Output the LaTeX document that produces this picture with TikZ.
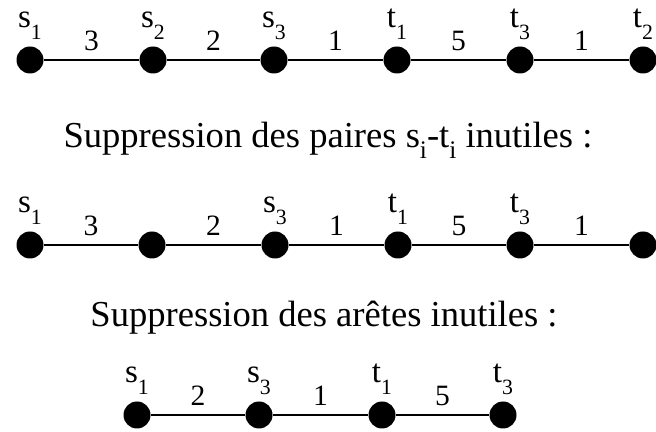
\documentclass[tikz,border=0pt]{standalone}
\usepackage{fontspec}
\setmainfont{Liberation Serif}
\usepackage{tikz}
\usetikzlibrary{positioning}

\newcommand{\vlab}[2]{#1\raisebox{-0.36em}{\fontsize{15.5}{18}\selectfont #2}}
\newcommand{\tsub}[1]{\raisebox{-0.3em}{\fontsize{18}{22}\selectfont #1}}

\begin{document}
\begin{tikzpicture}[x=0.025cm, y=0.025cm,
  dot/.style={circle, fill=black, inner sep=0pt, minimum size=19.2pt},
  lbl/.style={font=\fontsize{23.5}{28}\selectfont, inner sep=0pt, label distance=4.6pt},
  wt/.style={font=\fontsize{21}{25}\selectfont, inner sep=0pt, above=5.5pt},
  edge/.style={line width=2.1pt},
  title/.style={font=\fontsize{26}{31}\selectfont, anchor=base, inner sep=0pt}]

  \useasboundingbox (0,0) rectangle (656,432);

  % First chain
  \node[dot, label={[lbl]above:\vlab{s}{1}}] (s1) at (30,372) {};
  \node[dot, label={[lbl]above:\vlab{s}{2}}] (s2) at (153,372) {};
  \node[dot, label={[lbl]above:\vlab{s}{3}}] (s3) at (274,372) {};
  \node[dot, label={[lbl]above:\vlab{t}{1}}] (t1) at (397,372) {};
  \node[dot, label={[lbl]above:\vlab{t}{3}}] (t3) at (520,372) {};
  \node[dot, label={[lbl]above:\vlab{t}{2}}] (t2) at (643,372) {};
  \draw[edge] (s1) -- node[wt] {3} (s2);
  \draw[edge] (s2) -- node[wt] {2} (s3);
  \draw[edge] (s3) -- node[wt] {1} (t1);
  \draw[edge] (t1) -- node[wt] {5} (t3);
  \draw[edge] (t3) -- node[wt] {1} (t2);

  \node[title] (ttl1) at (328,284) {Suppression des paires s\tsub{i}-t\tsub{i} inutiles :};

  % Second chain
  \node[dot, label={[lbl]above:\vlab{s}{1}}] (s1b) at (30,187) {};
  \node[dot] (v2b) at (152,187) {};
  \node[dot, label={[lbl]above:\vlab{s}{3}}] (s3b) at (275,187) {};
  \node[dot, label={[lbl]above:\vlab{t}{1}}] (t1b) at (398,187) {};
  \node[dot, label={[lbl]above:\vlab{t}{3}}] (t3b) at (520,187) {};
  \node[dot] (v6b) at (643,187) {};
  \draw[edge] (s1b) -- node[wt] {3} (v2b);
  \draw[edge] (v2b) -- node[wt] {2} (s3b);
  \draw[edge] (s3b) -- node[wt] {1} (t1b);
  \draw[edge] (t1b) -- node[wt] {5} (t3b);
  \draw[edge] (t3b) -- node[wt] {1} (v6b);

  \node[title] (ttl2) at (324,105) {Suppression des arêtes inutiles :};

  % Third chain
  \node[dot, label={[lbl]above:\vlab{s}{1}}] (s1c) at (137,17) {};
  \node[dot, label={[lbl]above:\vlab{s}{3}}] (s3c) at (259,17) {};
  \node[dot, label={[lbl]above:\vlab{t}{1}}] (t1c) at (382,17) {};
  \node[dot, label={[lbl]above:\vlab{t}{3}}] (t3c) at (503,17) {};
  \draw[edge] (s1c) -- node[wt] {2} (s3c);
  \draw[edge] (s3c) -- node[wt] {1} (t1c);
  \draw[edge] (t1c) -- node[wt] {5} (t3c);

\end{tikzpicture}
\end{document}
